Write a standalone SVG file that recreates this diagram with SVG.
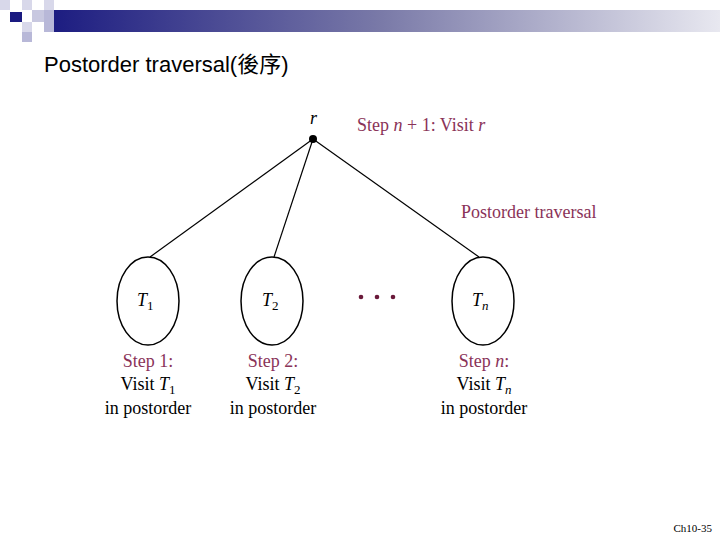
<svg xmlns="http://www.w3.org/2000/svg" width="720" height="540" viewBox="0 0 720 540">
<defs>
<linearGradient id="bar" x1="0" x2="1" y1="0" y2="0">
<stop offset="0" stop-color="#1a1a80"/><stop offset="0.5" stop-color="#7a7aa8"/><stop offset="1" stop-color="#e8e8f0"/>
</linearGradient>
<style>
.t{font-family:"Liberation Serif",serif;font-size:18px;fill:#000}
.m{font-family:"Liberation Serif",serif;font-size:18px;fill:#8a3358}
.e{fill:none;stroke:#000;stroke-width:1.5}
.c{stroke:#000;stroke-width:1.2;fill:none}
</style>
</defs>
<g id="header">
<rect x="44" y="10" width="676" height="22" fill="url(#bar)"/>
<rect x="0" y="0" width="10" height="10" fill="#d8d8ea"/>
<rect x="22" y="0" width="10" height="10" fill="#d8d8ea"/>
<rect x="44" y="0" width="10" height="10" fill="#d8d8ea"/>
<rect x="10" y="12" width="12" height="10" fill="#1a1a80"/>
<rect x="32" y="10" width="12" height="12" fill="#c8c8e0"/>
<rect x="22" y="22" width="10" height="10" fill="#d8d8ea"/>
<rect x="44" y="10" width="10" height="22" fill="#b8b8d8"/>
<rect x="22" y="32" width="10" height="10" fill="#b8b8d8"/>
<text x="44" y="72" font-family="'Liberation Sans','Noto Sans CJK TC',sans-serif" font-size="22">Postorder traversal(後序)</text>
</g>
<g id="connectors">
<line class="c" x1="313" y1="139" x2="150" y2="257"/>
<line class="c" x1="313" y1="139" x2="274" y2="257"/>
<line class="c" x1="313" y1="139" x2="479" y2="257"/>
</g>
<g id="root">
<circle cx="313" cy="139" r="4" fill="#000"/>
<text x="310" y="124" class="t" font-style="italic">r</text>
<text x="357" y="131" class="m">Step <tspan font-style="italic">n</tspan> + 1: Visit <tspan font-style="italic">r</tspan></text>
<text x="461" y="218" class="m">Postorder traversal</text>
</g>
<g id="T1">
<ellipse class="e" cx="148" cy="301" rx="31" ry="44"/>
<text x="137" y="306" class="t" font-style="italic" font-size="20">T<tspan font-style="normal" font-size="13" dy="4">1</tspan></text>
<text x="148" y="367" class="m" text-anchor="middle">Step 1:</text>
<text x="148" y="390" class="t" text-anchor="middle">Visit <tspan font-style="italic">T</tspan><tspan font-size="13" dy="4">1</tspan></text>
<text x="148" y="414" class="t" text-anchor="middle">in postorder</text>
</g>
<g id="T2">
<ellipse class="e" cx="272" cy="301" rx="31" ry="44"/>
<text x="262" y="306" class="t" font-style="italic" font-size="20">T<tspan font-style="normal" font-size="13" dy="4">2</tspan></text>
<text x="273" y="367" class="m" text-anchor="middle">Step 2:</text>
<text x="273" y="390" class="t" text-anchor="middle">Visit <tspan font-style="italic">T</tspan><tspan font-size="13" dy="4">2</tspan></text>
<text x="273" y="414" class="t" text-anchor="middle">in postorder</text>
</g>
<g id="dots" fill="#6a1a3a">
<circle cx="361" cy="297" r="2.3"/><circle cx="377" cy="297" r="2.3"/><circle cx="393" cy="297" r="2.3"/>
</g>
<g id="Tn">
<ellipse class="e" cx="483" cy="301" rx="31" ry="44"/>
<text x="472" y="306" class="t" font-style="italic" font-size="20">T<tspan font-size="13" dy="4">n</tspan></text>
<text x="484" y="367" class="m" text-anchor="middle">Step <tspan font-style="italic">n</tspan>:</text>
<text x="484" y="390" class="t" text-anchor="middle">Visit <tspan font-style="italic">T</tspan><tspan font-style="italic" font-size="13" dy="4">n</tspan></text>
<text x="484" y="414" class="t" text-anchor="middle">in postorder</text>
</g>
<text x="712" y="532" text-anchor="end" font-family="'Liberation Serif',serif" font-size="11">Ch10-35</text>
</svg>
